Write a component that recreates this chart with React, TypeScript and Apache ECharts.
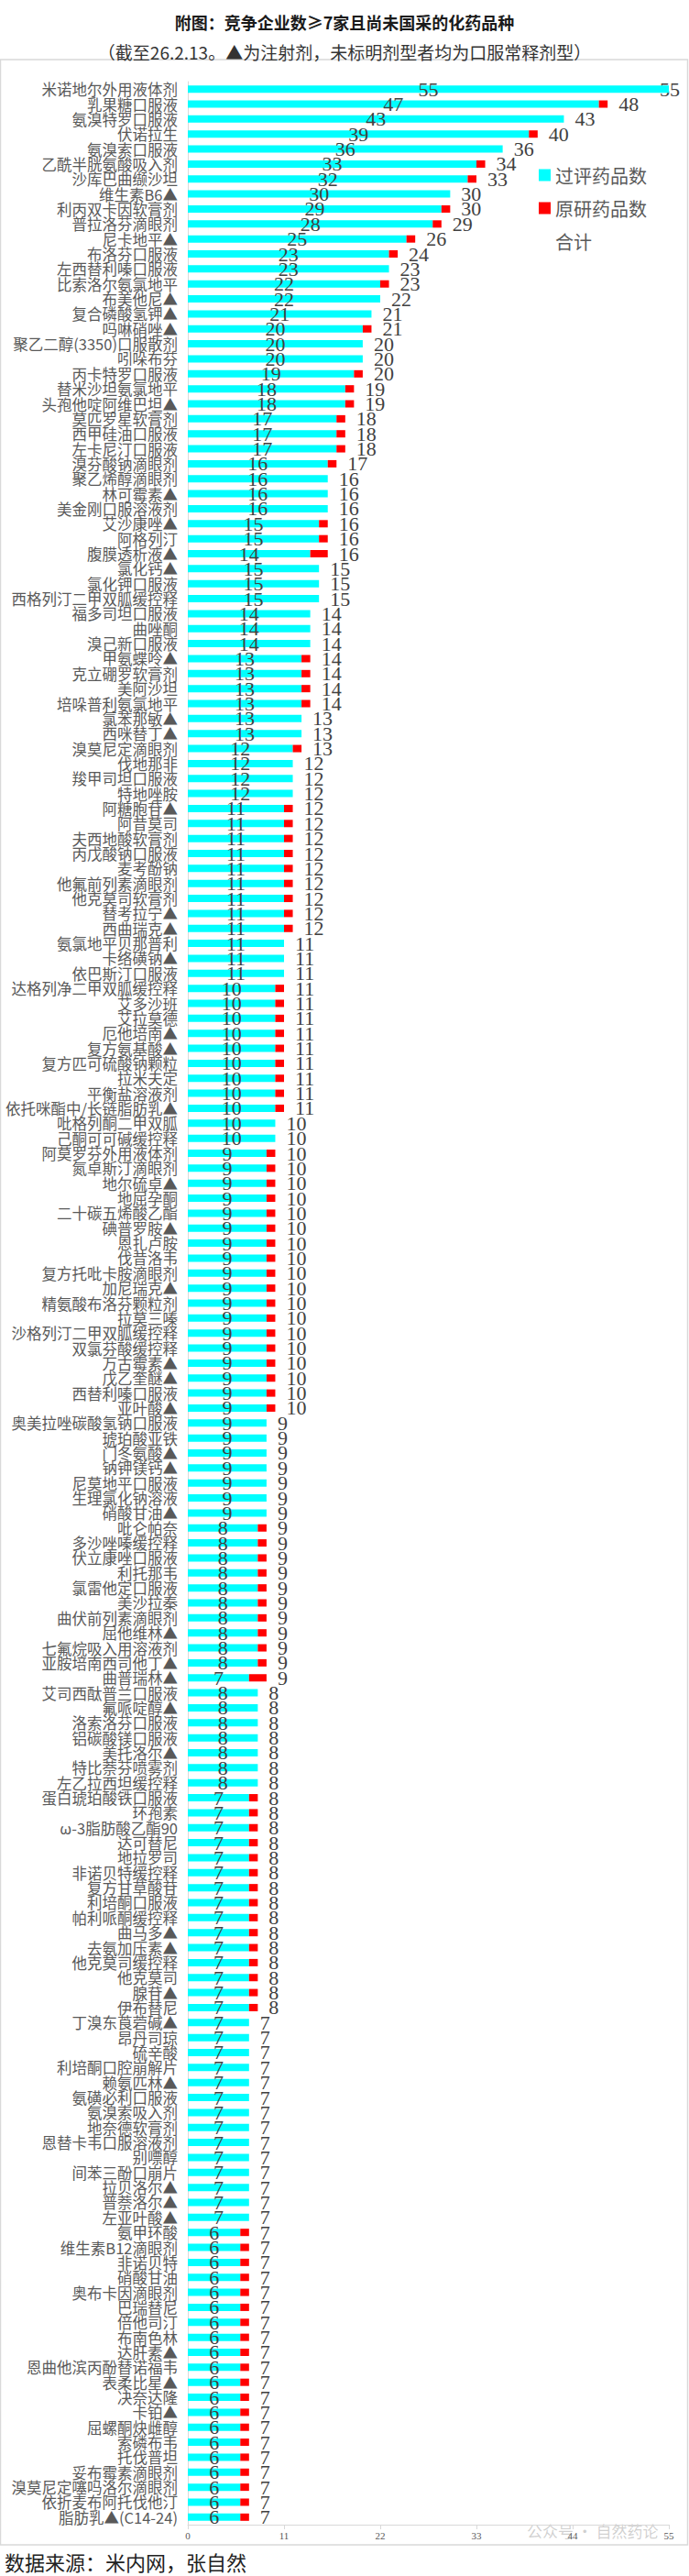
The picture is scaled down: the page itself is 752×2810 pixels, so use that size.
import React, { useEffect, useRef } from 'react';
import * as echarts from 'echarts';

const categories: string[] = [
  '米诺地尔外用液体剂', '乳果糖口服液', '氨溴特罗口服液', '伏诺拉生', '氨溴索口服液',
  '乙酰半胱氨酸吸入剂', '沙库巴曲缬沙坦', '维生素B6▲', '利丙双卡因软膏剂', '普拉洛芬滴眼剂',
  '尼卡地平▲', '布洛芬口服液', '左西替利嗪口服液', '比索洛尔氨氯地平', '布美他尼▲',
  '复合磷酸氢钾▲', '吗啉硝唑▲', '聚乙二醇(3350)口服散剂', '吲哚布芬', '丙卡特罗口服液',
  '替米沙坦氨氯地平', '头孢他啶阿维巴坦▲', '莫匹罗星软膏剂', '西甲硅油口服液', '左卡尼汀口服液',
  '溴芬酸钠滴眼剂', '聚乙烯醇滴眼剂', '林可霉素▲', '美金刚口服溶液剂', '艾沙康唑▲',
  '阿格列汀', '腹膜透析液▲', '氯化钙▲', '氯化钾口服液', '西格列汀二甲双胍缓控释',
  '福多司坦口服液', '曲唑酮', '溴己新口服液', '甲氨蝶呤▲', '克立硼罗软膏剂',
  '美阿沙坦', '培哚普利氨氯地平', '氯苯那敏▲', '西咪替丁▲', '溴莫尼定滴眼剂',
  '伐地那非', '羧甲司坦口服液', '特地唑胺', '阿糖胞苷▲', '阿昔莫司',
  '夫西地酸软膏剂', '丙戊酸钠口服液', '麦考酚钠', '他氟前列素滴眼剂', '他克莫司软膏剂',
  '替考拉宁▲', '西曲瑞克▲', '氨氯地平贝那普利', '卡络磺钠▲', '依巴斯汀口服液',
  '达格列净二甲双胍缓控释', '艾多沙班', '艾拉莫德', '厄他培南▲', '复方氨基酸▲',
  '复方匹可硫酸钠颗粒', '拉米夫定', '平衡盐溶液剂', '依托咪酯中/长链脂肪乳▲', '吡格列酮二甲双胍',
  '己酮可可碱缓控释', '阿莫罗芬外用液体剂', '氮卓斯汀滴眼剂', '地尔硫卓▲', '地屈孕酮',
  '二十碳五烯酸乙酯', '碘普罗胺▲', '恩扎卢胺', '伐昔洛韦', '复方托吡卡胺滴眼剂',
  '加尼瑞克▲', '精氨酸布洛芬颗粒剂', '拉莫三嗪', '沙格列汀二甲双胍缓控释', '双氯芬酸缓控释',
  '万古霉素▲', '戊乙奎醚▲', '西替利嗪口服液', '亚叶酸▲', '奥美拉唑碳酸氢钠口服液',
  '琥珀酸亚铁', '门冬氨酸▲', '钠钾镁钙▲', '尼莫地平口服液', '生理氯化钠溶液',
  '硝酸甘油▲', '吡仑帕奈', '多沙唑嗪缓控释', '伏立康唑口服液', '利托那韦',
  '氯雷他定口服液', '美沙拉秦', '曲伏前列素滴眼剂', '屈他维林▲', '七氟烷吸入用溶液剂',
  '亚胺培南西司他丁▲', '曲普瑞林▲', '艾司西酞普兰口服液', '氟哌啶醇▲', '洛索洛芬口服液',
  '铝碳酸镁口服液', '美托洛尔▲', '特比萘芬喷雾剂', '左乙拉西坦缓控释', '蛋白琥珀酸铁口服液',
  '环孢素', 'ω-3脂肪酸乙酯90', '达可替尼', '地拉罗司', '非诺贝特缓控释',
  '复方甘草酸苷', '利培酮口服液', '帕利哌酮缓控释', '曲马多▲', '去氨加压素▲',
  '他克莫司缓控释', '他克莫司', '腺苷▲', '伊布替尼', '丁溴东莨菪碱▲',
  '昂丹司琼', '硫辛酸', '利培酮口腔崩解片', '赖氨匹林▲', '氨磺必利口服液',
  '氨溴索吸入剂', '地奈德软膏剂', '恩替卡韦口服溶液剂', '别嘌醇', '间苯三酚口崩片',
  '拉贝洛尔▲', '普萘洛尔▲', '左亚叶酸▲', '氨甲环酸', '维生素B12滴眼剂',
  '非诺贝特', '硝酸甘油', '奥布卡因滴眼剂', '巴瑞替尼', '倍他司汀',
  '布南色林', '达肝素▲', '恩曲他滨丙酚替诺福韦', '表柔比星▲', '决奈达隆',
  '卡铂▲', '屈螺酮炔雌醇', '索磷布韦', '托伐普坦', '妥布霉素滴眼剂',
  '溴莫尼定噻吗洛尔滴眼剂', '依折麦布阿托伐他汀', '脂肪乳▲(C14-24)',
];

// 过评药品数
const passedCounts: number[] = [
  55, 47, 43, 39, 36, 33, 32, 30, 29, 28,
  25, 23, 23, 22, 22, 21, 20, 20, 20, 19,
  18, 18, 17, 17, 17, 16, 16, 16, 16, 15,
  15, 14, 15, 15, 15, 14, 14, 14, 13, 13,
  13, 13, 13, 13, 12, 12, 12, 12, 11, 11,
  11, 11, 11, 11, 11, 11, 11, 11, 11, 11,
  10, 10, 10, 10, 10, 10, 10, 10, 10, 10,
  10, 9, 9, 9, 9, 9, 9, 9, 9, 9,
  9, 9, 9, 9, 9, 9, 9, 9, 9, 9,
  9, 9, 9, 9, 9, 9, 8, 8, 8, 8,
  8, 8, 8, 8, 8, 8, 7, 8, 8, 8,
  8, 8, 8, 8, 7, 7, 7, 7, 7, 7,
  7, 7, 7, 7, 7, 7, 7, 7, 7, 7,
  7, 7, 7, 7, 7, 7, 7, 7, 7, 7,
  7, 7, 7, 6, 6, 6, 6, 6, 6, 6,
  6, 6, 6, 6, 6, 6, 6, 6, 6, 6,
  6, 6, 6,
];

// 原研药品数
const originalCounts: number[] = [
  0, 1, 0, 1, 0, 1, 1, 0, 1, 1,
  1, 1, 0, 1, 0, 0, 1, 0, 0, 1,
  1, 1, 1, 1, 1, 1, 0, 0, 0, 1,
  1, 2, 0, 0, 0, 0, 0, 0, 1, 1,
  1, 1, 0, 0, 1, 0, 0, 0, 1, 1,
  1, 1, 1, 1, 1, 1, 1, 0, 0, 0,
  1, 1, 1, 1, 1, 1, 1, 1, 1, 0,
  0, 1, 1, 1, 1, 1, 1, 1, 1, 1,
  1, 1, 1, 1, 1, 1, 1, 1, 1, 0,
  0, 0, 0, 0, 0, 0, 1, 1, 1, 1,
  1, 1, 1, 1, 1, 1, 2, 0, 0, 0,
  0, 0, 0, 0, 1, 1, 1, 1, 1, 1,
  1, 1, 1, 1, 1, 1, 1, 1, 1, 0,
  0, 0, 0, 0, 0, 0, 0, 0, 0, 0,
  0, 0, 0, 1, 1, 1, 1, 1, 1, 1,
  1, 1, 1, 1, 1, 1, 1, 1, 1, 1,
  1, 1, 1,
];

const seriesNames = ['过评药品数', '原研药品数', '合计'];
const titleText = '附图：竞争企业数≥7家且尚未国采的化药品种';
const subtitleText = '（截至26.2.13。▲为注射剂，未标明剂型者均为口服常释剂型）';
const sourceText = '数据来源：米内网，张自然';

const AXIS_MAX = 55;
const totals = passedCounts.map((v, i) => v + (originalCounts[i] || 0));

const CJK = '"Noto Sans CJK SC", "Noto Sans", sans-serif';
const SERIF = '"Liberation Serif", "DejaVu Serif", serif';

export default function App() {
  const ref = useRef<HTMLDivElement | null>(null);
  useEffect(() => {
    if (!ref.current) return;
    const chart = echarts.init(ref.current, undefined, { renderer: 'svg' });
    // totals that reach the axis end keep their label inside the frame
    const totalData = totals.map((t) =>
      t >= AXIS_MAX ? { value: t, label: { distance: -10 } } : t
    );
    chart.setOption({
      animation: false,
      backgroundColor: '#ffffff',
      title: [
        {
          text: titleText,
          left: 'center',
          top: 10,
          textStyle: { fontSize: 18, fontWeight: 'bold', color: '#1a1a1a', fontFamily: CJK },
        },
        {
          text: subtitleText,
          left: 'center',
          top: 42,
          textStyle: { fontSize: 19, fontWeight: 'normal', color: '#333333', fontFamily: CJK },
        },
      ],
      legend: {
        orient: 'vertical',
        left: 583,
        top: 176,
        itemWidth: 13,
        itemHeight: 13,
        itemGap: 16,
        icon: 'rect',
        textStyle: { fontSize: 20, color: '#595959', fontFamily: CJK },
        data: seriesNames,
      },
      grid: { left: 205, right: 22, top: 89, bottom: 2810 - 2754, containLabel: false },
      xAxis: {
        type: 'value',
        min: 0,
        max: AXIS_MAX,
        interval: 11,
        axisLine: { show: true, lineStyle: { color: '#d9d9d9', width: 1 } },
        axisTick: { show: true, length: 5, lineStyle: { color: '#d9d9d9' } },
        splitLine: { show: false },
        axisLabel: { fontSize: 11, color: '#595959', fontFamily: SERIF, margin: 6 },
      },
      yAxis: {
        type: 'category',
        inverse: true,
        data: categories,
        axisLine: { show: true, lineStyle: { color: '#d9d9d9', width: 1 } },
        axisTick: { show: false },
        axisLabel: { fontSize: 16.5, color: '#595959', fontFamily: CJK, margin: 11, interval: 0 },
      },
      series: [
        {
          name: seriesNames[0],
          type: 'bar',
          stack: 'drug',
          barWidth: 8,
          data: passedCounts,
          itemStyle: { color: '#00FFFF' },
          label: {
            show: true,
            position: 'inside',
            fontSize: 22,
            fontFamily: SERIF,
            color: '#404040',
          },
        },
        {
          name: seriesNames[1],
          type: 'bar',
          stack: 'drug',
          barWidth: 8,
          data: originalCounts,
          itemStyle: { color: '#FF0000' },
        },
        {
          name: seriesNames[2],
          type: 'bar',
          barWidth: 8,
          barGap: '-100%',
          data: totalData,
          z: 1,
          itemStyle: { color: 'rgba(0,0,0,0)' },
          label: {
            show: true,
            position: 'right',
            distance: 12,
            fontSize: 22,
            fontFamily: SERIF,
            color: '#404040',
          },
        },
      ],
      graphic: [
        {
          type: 'rect',
          shape: { x: 0.5, y: 65, width: 750, height: 2711 },
          style: { fill: 'none', stroke: '#d9d9d9', lineWidth: 1.5 },
          silent: true,
        },
        {
          type: 'text',
          left: 5,
          top: 2783,
          style: { text: sourceText, fontSize: 22, fill: '#222222', fontFamily: CJK },
        },
        {
          type: 'text',
          x: 575,
          y: 2752,
          style: { text: '公众号 · 自然药论', fontSize: 17, fill: 'rgba(120,120,120,0.35)', fontFamily: CJK },
        },
      ],
    });
    return () => chart.dispose();
  }, []);
  return (
    <div
      ref={ref}
      style={{ position: 'absolute', left: 0, top: 0, width: 752, height: 2810 }}
    />
  );
}
